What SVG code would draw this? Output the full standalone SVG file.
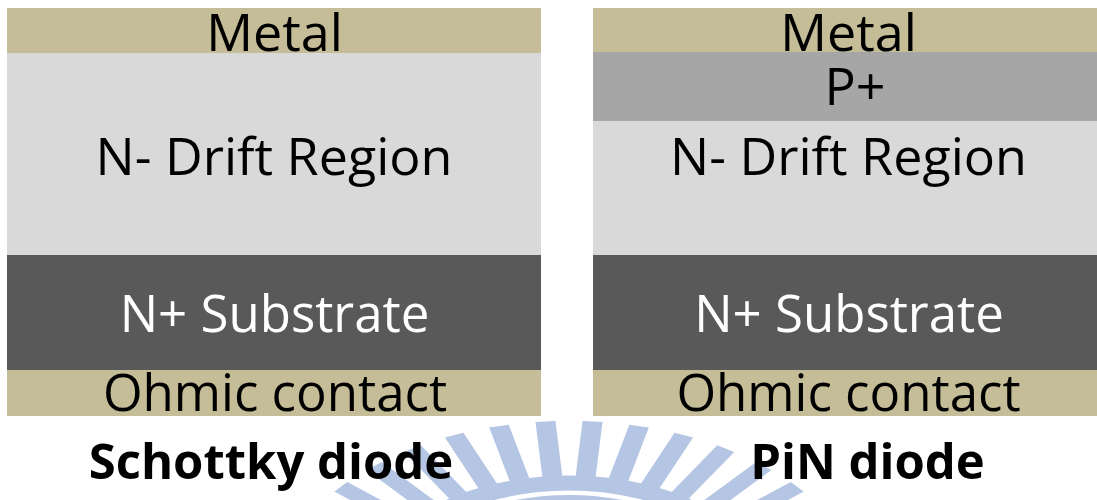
<svg xmlns="http://www.w3.org/2000/svg" width="1097" height="500" viewBox="0 0 1097 500">
  <style>
    .metal { fill: #c4bd97; }
    .drift { fill: #d9d9d9; }
    .sub { fill: #595959; }
    .pplus { fill: #a6a6a6; }
    .lbl { font-family: "Open Sans", "Liberation Sans", sans-serif; font-size: 51px; text-anchor: middle; fill: #000; }
    .big { font-size: 52px; }
    .wlbl { fill: #ffffff; }
    .title { font-family: "Open Sans", "Liberation Sans", sans-serif; font-size: 49px; font-weight: bold; text-anchor: middle; fill: #000; }
    .ray { stroke: #adc0e2; stroke-width: 20; }
  </style>
  <rect width="1097" height="500" fill="#ffffff"/>

  <g id="watermark" opacity="0.9">
    <g transform="translate(569,609) scale(1,0.627)">
      <line class="ray" x1="0" y1="-212" x2="0" y2="-300" transform="rotate(-58.5)"/>
      <line class="ray" x1="0" y1="-212" x2="0" y2="-300" transform="rotate(-49.5)"/>
      <line class="ray" x1="0" y1="-212" x2="0" y2="-300" transform="rotate(-40.5)"/>
      <line class="ray" x1="0" y1="-212" x2="0" y2="-300" transform="rotate(-31.5)"/>
      <line class="ray" x1="0" y1="-212" x2="0" y2="-300" transform="rotate(-22.5)"/>
      <line class="ray" x1="0" y1="-212" x2="0" y2="-300" transform="rotate(-13.5)"/>
      <line class="ray" x1="0" y1="-212" x2="0" y2="-300" transform="rotate(-4.5)"/>
      <line class="ray" x1="0" y1="-212" x2="0" y2="-300" transform="rotate(4.5)"/>
      <line class="ray" x1="0" y1="-212" x2="0" y2="-300" transform="rotate(13.5)"/>
      <line class="ray" x1="0" y1="-212" x2="0" y2="-300" transform="rotate(22.5)"/>
      <line class="ray" x1="0" y1="-212" x2="0" y2="-300" transform="rotate(31.5)"/>
      <line class="ray" x1="0" y1="-212" x2="0" y2="-300" transform="rotate(40.5)"/>
      <line class="ray" x1="0" y1="-212" x2="0" y2="-300" transform="rotate(49.5)"/>
      <line class="ray" x1="0" y1="-212" x2="0" y2="-300" transform="rotate(58.5)"/>
      <circle cx="0" cy="0" r="201" fill="none" stroke="#adc0e2" stroke-width="24"/>
      <circle cx="0" cy="0" r="172" fill="none" stroke="#adc0e2" stroke-width="20"/>
    </g>
  </g>

  <g id="schottky">
    <g id="s-metal">
      <rect class="metal" x="7" y="8" width="534" height="45"/>
      <text class="lbl big" x="274.5" y="51">Metal</text>
    </g>
    <g id="s-drift">
      <rect class="drift" x="7" y="53" width="534" height="202"/>
      <text class="lbl big" x="274" y="175">N- Drift Region</text>
    </g>
    <g id="s-sub">
      <rect class="sub" x="7" y="255" width="534" height="115"/>
      <text class="lbl wlbl" x="274.5" y="332">N+ Substrate</text>
    </g>
    <g id="s-ohmic">
      <rect class="metal" x="7" y="370" width="534" height="46"/>
      <text class="lbl" x="275" y="411">Ohmic contact</text>
    </g>
    <text id="s-title" class="title" x="271" y="479">Schottky diode</text>
  </g>

  <g id="pin">
    <g id="p-metal">
      <rect class="metal" x="593" y="8" width="504" height="44"/>
      <text class="lbl big" x="848.5" y="51">Metal</text>
    </g>
    <g id="p-pplus">
      <rect class="pplus" x="593" y="52" width="504" height="69"/>
      <text class="lbl big" x="855" y="105">P+</text>
    </g>
    <g id="p-drift">
      <rect class="drift" x="593" y="121" width="504" height="134"/>
      <text class="lbl big" x="848.5" y="175">N- Drift Region</text>
    </g>
    <g id="p-sub">
      <rect class="sub" x="593" y="255" width="504" height="115"/>
      <text class="lbl wlbl" x="849" y="332">N+ Substrate</text>
    </g>
    <g id="p-ohmic">
      <rect class="metal" x="593" y="370" width="504" height="46"/>
      <text class="lbl" x="848.5" y="411">Ohmic contact</text>
    </g>
    <text id="p-title" class="title" x="867.5" y="479">PiN diode</text>
  </g>

  <g id="connectors"></g>
</svg>
